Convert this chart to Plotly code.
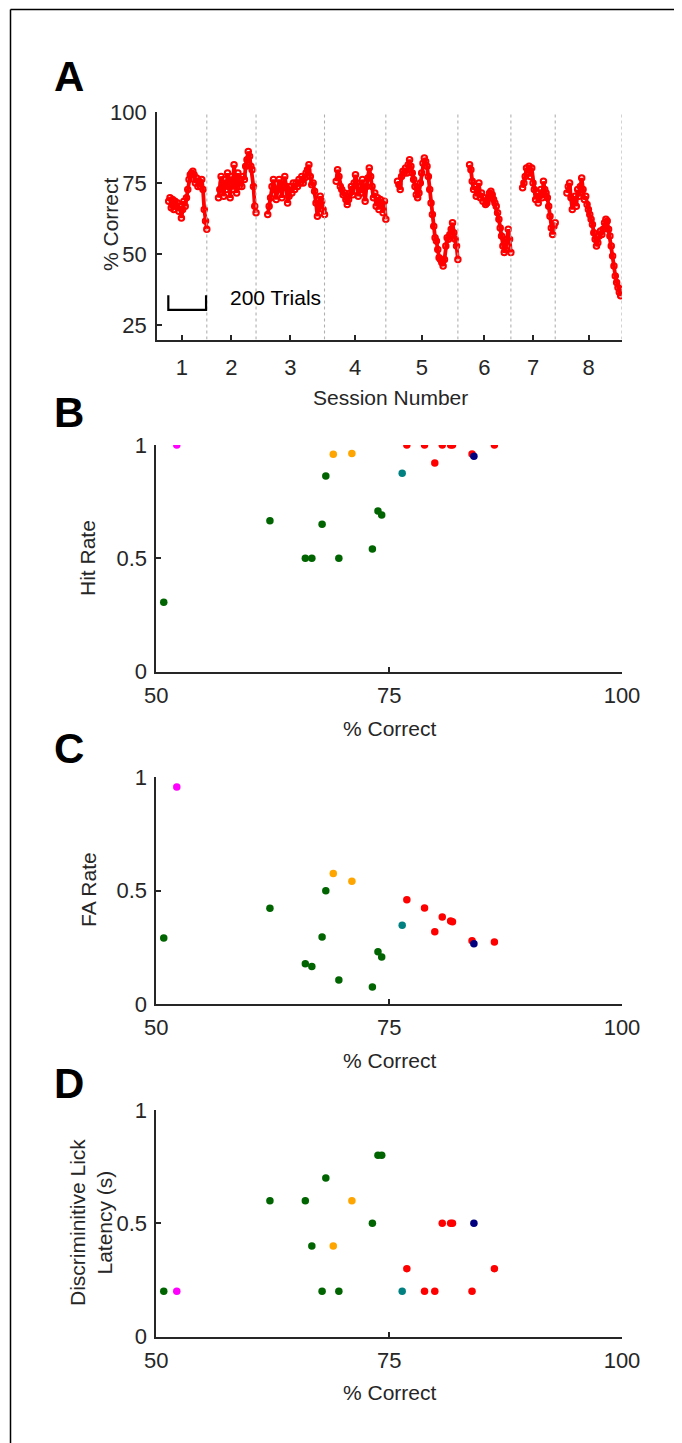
import numpy as np
import plotly.graph_objects as go

# page body has an 8px margin; figure sized so that it ends at the window edge
OFF = 8
W, H = 682 - OFF, 1443 - OFF

# ---------------- Panel A data (moving-average % correct per session) ----------------
session_lengths = [264, 261, 363, 325, 382, 281, 235, 354]   # trials per session
window = 62                                                    # first plotted trial within a session
session_labels = ["1", "2", "3", "4", "5", "6", "7", "8"]

s1 = [68.7, 69.9, 66.4, 69.3, 65.8, 68.7, 66.9, 68.1, 65.2, 66.9, 62.8, 65.8, 68.7, 66.9, 69.9, 72.8,
      76.3, 78.0, 78.6, 79.2, 78.0, 75.1, 76.9, 73.9, 75.7, 73.9, 76.3, 72.8, 65.8, 61.7, 58.8]
s2 = [69.9, 72.8, 77.4, 75.1, 70.4, 76.3, 72.8, 78.6, 73.9, 69.9, 77.4, 72.8, 81.5, 75.1, 71.6, 78.6,
      73.9, 76.3, 73.9, 77.4, 76.3, 81.0, 83.3, 86.2, 84.5, 81.0, 79.8, 73.9, 66.9, 64.6]
s3 = [64.0, 66.9, 69.9, 73.9, 76.3, 72.8, 69.3, 72.8, 76.3, 73.9, 69.9, 74.5, 77.4, 73.9, 68.1, 70.4,
      73.9, 71.6, 75.1, 72.8, 75.1, 73.9, 76.3, 75.1, 77.4, 75.1, 76.9, 78.6, 79.8, 81.5, 77.4, 74.5,
      75.1, 72.2, 68.1, 63.4, 66.9, 70.4, 68.7, 65.8, 64.0]
s4 = [75.7, 79.8, 77.4, 73.9, 72.8, 71.0, 71.6, 69.3, 67.5, 69.3, 71.6, 73.9, 71.0, 75.1, 78.0, 75.1,
      70.4, 73.9, 71.6, 76.3, 72.8, 68.7, 73.9, 76.9, 80.4, 77.4, 73.9, 69.9, 71.6, 66.9, 69.9, 65.8,
      69.3, 68.1, 64.6, 68.7, 62.3]
s5 = [75.7, 74.5, 72.8, 77.4, 79.2, 78.6, 80.4, 78.6, 81.5, 83.3, 81.0, 78.6, 76.3, 73.9, 71.0, 69.9,
      71.6, 75.1, 78.6, 82.1, 83.9, 82.7, 81.0, 77.4, 72.8, 68.1, 64.0, 59.9, 55.8, 54.7, 51.7, 48.8,
      48.2, 47.1, 45.9, 48.2, 52.9, 55.8, 55.3, 57.0, 58.8, 61.1, 57.6, 55.3, 52.9, 48.2]
s6 = [81.5, 79.8, 75.7, 72.8, 73.9, 70.4, 72.8, 75.1, 69.9, 71.6, 68.7, 69.9, 67.5, 68.1, 69.9, 71.6,
      72.2, 71.0, 69.3, 68.1, 66.9, 64.6, 62.3, 59.3, 56.4, 52.9, 50.6, 51.7, 55.3, 58.8, 55.3, 50.6]
s7 = [73.4, 75.1, 77.4, 80.4, 78.6, 81.0, 77.4, 80.4, 75.1, 72.8, 69.3, 71.6, 68.1, 70.4, 72.8, 69.9,
      75.7, 72.8, 71.6, 69.9, 66.9, 63.4, 59.3, 57.0, 59.9, 61.1]
s8 = [71.6, 73.9, 75.1, 69.9, 65.8, 68.1, 70.4, 66.9, 72.8, 70.4, 73.9, 76.9, 72.8, 69.3, 70.4, 67.5,
      65.8, 64.0, 62.3, 60.5, 57.6, 55.3, 52.9, 54.1, 56.4, 58.2, 57.0, 58.8, 61.1, 62.3, 61.7, 58.8,
      56.4, 52.9, 49.4, 45.9, 42.4, 40.1, 38.3, 36.6, 35.4, 37.7]
sessions = [s1, s2, s3, s4, s5, s6, s7, s8]

# ---------------- Panels B-D data ----------------
pct_correct = [52.2, 69.0, 71.0, 68.2, 76.9, 78.8, 80.7, 81.6, 81.8, 83.9, 84.1, 86.3, 79.9, 76.4,
               62.2, 67.8, 73.8, 74.2, 73.2, 66.0, 66.7, 69.6, 50.8]
group = ["magenta", "orange", "orange", "green", "red", "red", "red", "red", "red", "red", "navy",
         "red", "red", "teal", "green", "green", "green", "green", "green", "green", "green", "green",
         "green"]
hit_rate = [1.0, 0.959, 0.962, 0.863, 1.0, 1.0, 1.0, 1.0, 1.0, 0.960, 0.950, 1.0, 0.921, 0.875,
            0.666, 0.650, 0.709, 0.691, 0.541, 0.5, 0.5, 0.5, 0.306]
fa_rate = [0.957, 0.576, 0.541, 0.50, 0.460, 0.424, 0.384, 0.366, 0.363, 0.279, 0.266, 0.274, 0.319,
           0.347, 0.422, 0.296, 0.231, 0.207, 0.075, 0.178, 0.165, 0.106, 0.291]
lick_latency = [0.2, 0.4, 0.6, 0.7, 0.3, 0.2, 0.5, 0.5, 0.5, 0.2, 0.5, 0.3, 0.2, 0.2,
                0.6, 0.2, 0.8, 0.8, 0.5, 0.6, 0.4, 0.2, 0.2]
group_colors = {"green": "#006400", "orange": "#FFA500", "teal": "#008080", "red": "#FF0000",
                "magenta": "#FF00FF", "navy": "#000080"}
draw_order = ["green", "orange", "teal", "red", "magenta", "navy"]

FONT = "Liberation Sans, Arial, sans-serif"
AX = "#262626"
TICK_SIZE = 22
TITLE_SIZE = 21

def px_x(p):
    return (p - OFF) / W

def px_y(p):
    return 1 - (p - OFF) / H

fig = go.Figure()

# ---- Panel A traces ----
bounds = np.cumsum([0] + session_lengths)
for i, vals in enumerate(sessions):
    xs = np.linspace(bounds[i] + window, bounds[i + 1], len(vals))
    fig.add_trace(go.Scatter(
        x=xs, y=vals, mode="lines+markers", xaxis="x", yaxis="y",
        line=dict(color="#FF0000", width=3.8),
        marker=dict(symbol="circle-open", size=5.5, color="#FF0000", line=dict(width=2)),
        showlegend=False, hoverinfo="skip"))

mids = [(bounds[i] + bounds[i + 1]) / 2 for i in range(len(session_lengths))]

# ---- Panels B-D ----
panels = [("x2", "y2", hit_rate), ("x3", "y3", fa_rate), ("x4", "y4", lick_latency)]
for xa, ya, yvals in panels:
    for g in draw_order:
        idx = [k for k, gg in enumerate(group) if gg == g]
        fig.add_trace(go.Scatter(
            x=[pct_correct[k] for k in idx], y=[yvals[k] for k in idx],
            mode="markers", xaxis=xa, yaxis=ya,
            marker=dict(size=7.5, color=group_colors[g], line=dict(width=0)),
            showlegend=False))

def axis_style(**kw):
    d = dict(showline=True, linecolor=AX, linewidth=1.6, ticks="inside", ticklen=5,
             tickcolor=AX, tickwidth=1.6, showgrid=False, zeroline=False, automargin=False,
             tickfont=dict(family=FONT, size=TICK_SIZE, color=AX))
    d.update(kw)
    return d

layout = dict(
    width=W, height=H, autosize=False,
    margin=dict(l=0, r=0, t=0, b=0, pad=0, autoexpand=False),
    paper_bgcolor="white", plot_bgcolor="white", font=dict(family=FONT, color=AX),
    xaxis=axis_style(domain=[px_x(157), px_x(622)], range=[0, bounds[-1]], anchor="y",
                     tickvals=mids, ticktext=session_labels, ticklabelstandoff=7),
    yaxis=axis_style(domain=[px_y(339.5), px_y(112.3)], range=[20, 100], anchor="x",
                     tickvals=[25, 50, 75, 100], ticklabelstandoff=4),
)
ydoms = {"2": (671.7, 445.0), "3": (1004.0, 777.3), "4": (1336.7, 1110.0)}
for n, (yb, yt) in ydoms.items():
    layout["xaxis" + n] = axis_style(domain=[px_x(156.3), px_x(622)], range=[50, 100],
                                     anchor="y" + n, tickvals=[50, 75, 100], ticklabelstandoff=3)
    layout["yaxis" + n] = axis_style(domain=[px_y(yb), px_y(yt)], range=[0, 1], anchor="x" + n,
                                     tickvals=[0, 0.5, 1], ticktext=["0", "0.5", "1"],
                                     ticklabelstandoff=3)
fig.update_layout(**layout)

shapes = []
# session boundary dotted lines (they break the x axis line)
for b in bounds[1:]:
    shapes.append(dict(type="line", xref="x", yref="y", x0=b, x1=b, y0=19.3, y1=20.7,
                       line=dict(color="white", width=2.5)))
    shapes.append(dict(type="line", xref="x", yref="y", x0=b, x1=b, y0=20, y1=100,
                       line=dict(color="#B0B0B0", width=1.1, dash="dot")))
# scale bar (200 trials)
shapes.append(dict(type="path", xref="x", yref="y",
                   path="M 60,35.6 L 60,30.4 L 260,30.4 L 260,35.6",
                   line=dict(color="black", width=2.2)))
# figure border (top and left)
shapes.append(dict(type="line", xref="paper", yref="paper", x0=px_x(10.5), x1=1,
                   y0=px_y(9.5), y1=px_y(9.5), line=dict(color="black", width=1.5)))
shapes.append(dict(type="line", xref="paper", yref="paper", x0=px_x(10.5), x1=px_x(10.5),
                   y0=0, y1=px_y(9.5), line=dict(color="black", width=1.5)))
fig.update_layout(shapes=shapes)

def ann(text, x, y, size=TITLE_SIZE, angle=0, bold=False, color=AX, xanchor="center"):
    return dict(text=("<b>%s</b>" % text) if bold else text, x=px_x(x), y=px_y(y),
                xref="paper", yref="paper", showarrow=False, textangle=angle,
                xanchor=xanchor, yanchor="middle",
                font=dict(family=FONT, size=size, color=color))

annotations = [
    ann("A", 69, 76, size=42, bold=True, color="black"),
    ann("B", 69, 412, size=42, bold=True, color="black"),
    ann("C", 69, 748, size=42, bold=True, color="black"),
    ann("D", 69, 1083, size=42, bold=True, color="black"),
    ann("% Correct", 110, 224, angle=-90),
    ann("Session Number", 390, 397),
    ann("Hit Rate", 88, 558, angle=-90),
    ann("% Correct", 390, 728),
    ann("FA Rate", 88, 890, angle=-90),
    ann("% Correct", 390, 1060),
    ann("Discriminitive Lick<br>Latency (s)", 91, 1223, angle=-90),
    ann("% Correct", 390, 1392),
    dict(text="200 Trials", x=375, y=34.9, xref="x", yref="y", showarrow=False,
         xanchor="left", yanchor="middle", font=dict(family=FONT, size=21, color="black")),
]
fig.update_layout(annotations=annotations)

fig.write_html("out.html")
